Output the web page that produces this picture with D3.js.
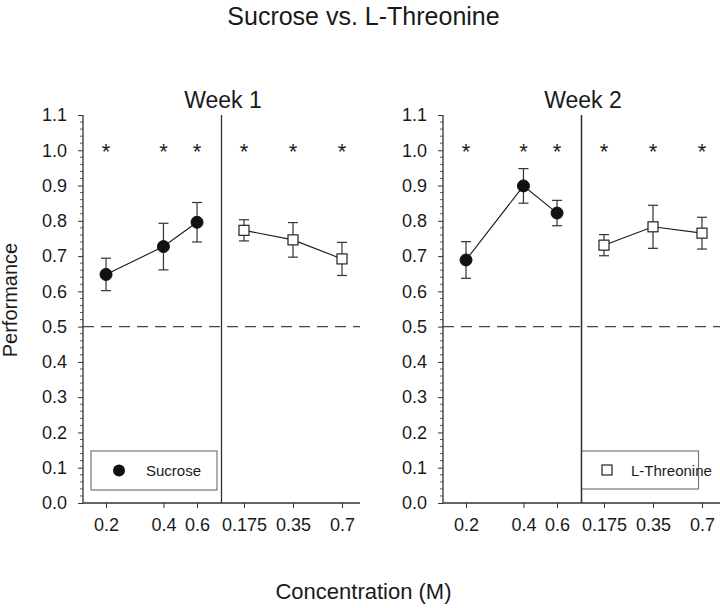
<!DOCTYPE html>
<html>
<head>
<meta charset="utf-8">
<script src="https://cdn.jsdelivr.net/npm/d3@7"></script>
<style>
  body { margin: 0; background: #fff; }
  svg { display: block; font-family: "Liberation Sans", Arial, sans-serif; }
</style>
</head>
<body>
<svg id="chart" width="720" height="608"></svg>
<script>
// ---- Data ----
const sucroseConc = [0.2, 0.4, 0.6];
const threonineConc = [0.175, 0.35, 0.7];
const sucroseTickLabels = ["0.2", "0.4", "0.6"];
const threonineTickLabels = ["0.175", "0.35", "0.7"];
const weekTitles = ["Week 1", "Week 2"];

const week1Sucrose = [0.648, 0.727, 0.796];
const week1SucroseErr = [0.046, 0.066, 0.056];
const week1Threonine = [0.773, 0.746, 0.692];
const week1ThreonineErr = [0.030, 0.049, 0.047];

const week2Sucrose = [0.689, 0.899, 0.822];
const week2SucroseErr = [0.052, 0.049, 0.036];
const week2Threonine = [0.731, 0.783, 0.765];
const week2ThreonineErr = [0.030, 0.061, 0.045];

const yTicks = [0, 0.1, 0.2, 0.3, 0.4, 0.5, 0.6, 0.7, 0.8, 0.9, 1.0, 1.1];
const chanceLevel = 0.5;
const sigLevel = 1.0;
const legendLabels = ["Sucrose", "L-Threonine"];

// ---- Layout ----
const svg = d3.select("#chart");
const plotTop = 115, plotBottom = 503, panelW = 277, half = 138.5;
const panelX = [83, 443];
const ink = "#1a1a1a", axisCol = "#333";

const y = d3.scaleLinear().domain([0, 1.1]).range([plotBottom, plotTop]);

svg.append("text").attr("x", 363.5).attr("y", 25).attr("text-anchor", "middle")
  .attr("font-size", 25).attr("fill", ink).text("Sucrose vs. L-Threonine");
svg.append("text").attr("x", 363.5).attr("y", 599).attr("text-anchor", "middle")
  .attr("font-size", 22).attr("fill", ink).text("Concentration (M)");
svg.append("text").attr("transform", "translate(17,300) rotate(-90)").attr("text-anchor", "middle")
  .attr("font-size", 20).attr("fill", ink).text("Performance");

const weeks = [
  {suc: week1Sucrose, sucErr: week1SucroseErr, thr: week1Threonine, thrErr: week1ThreonineErr},
  {suc: week2Sucrose, sucErr: week2SucroseErr, thr: week2Threonine, thrErr: week2ThreonineErr}
];

weeks.forEach((w, i) => {
  const x0 = panelX[i];
  const g = svg.append("g");
  const xs = d3.scaleLog().domain([0.1515, 0.806]).range([x0, x0 + half]);
  const xt = d3.scaleLog().domain([0.1273, 0.903]).range([x0 + half, x0 + panelW]);

  // title
  g.append("text").attr("x", x0 + 140).attr("y", 108).attr("text-anchor", "middle")
    .attr("font-size", 23).attr("fill", ink).text(weekTitles[i]);

  // y axis
  const yAxis = d3.axisLeft(y).tickValues(yTicks).tickSize(5).tickPadding(11).tickFormat(d3.format(".1f"));
  const ya = g.append("g").attr("transform", `translate(${x0},0)`).call(yAxis);
  ya.select(".domain").remove();
  ya.selectAll("line").attr("stroke", axisCol);
  ya.selectAll("text").attr("font-size", 18).attr("fill", ink).attr("font-family", "Liberation Sans, Arial, sans-serif");
  const minor = d3.range(0, 1.1001, 0.02).filter(v => Math.abs(Math.round(v * 10) - v * 10) > 1e-6);
  g.selectAll(".minor").data(minor).join("line")
    .attr("x1", x0 - 3).attr("x2", x0).attr("y1", d => y(d)).attr("y2", d => y(d))
    .attr("stroke", axisCol).attr("stroke-width", 0.8);
  g.append("line").attr("x1", x0).attr("x2", x0).attr("y1", plotTop).attr("y2", plotBottom)
    .attr("stroke", axisCol).attr("stroke-width", 1.3);

  // x axes
  const xa1 = g.append("g").attr("transform", `translate(0,${plotBottom})`)
    .call(d3.axisBottom(xs).tickValues(sucroseConc).tickSize(5).tickPadding(10)
      .tickFormat((d, k) => sucroseTickLabels[k]));
  const xa2 = g.append("g").attr("transform", `translate(0,${plotBottom})`)
    .call(d3.axisBottom(xt).tickValues(threonineConc).tickSize(5).tickPadding(10)
      .tickFormat((d, k) => threonineTickLabels[k]));
  [xa1, xa2].forEach(a => {
    a.select(".domain").remove();
    a.selectAll("line").attr("stroke", axisCol);
    a.selectAll("text").attr("font-size", 18).attr("fill", ink).attr("font-family", "Liberation Sans, Arial, sans-serif");
  });
  g.append("line").attr("x1", x0).attr("x2", x0 + panelW).attr("y1", plotBottom).attr("y2", plotBottom)
    .attr("stroke", axisCol).attr("stroke-width", 1.3);

  // divider
  g.append("line").attr("x1", x0 + half).attr("x2", x0 + half).attr("y1", plotTop).attr("y2", plotBottom)
    .attr("stroke", axisCol).attr("stroke-width", 1.3);

  // chance line
  g.append("line").attr("x1", x0).attr("x2", x0 + panelW).attr("y1", y(chanceLevel)).attr("y2", y(chanceLevel))
    .attr("stroke", "#444").attr("stroke-width", 1.2).attr("stroke-dasharray", "11,7");

  // significance asterisks
  const starX = sucroseConc.map(c => xs(c)).concat(threonineConc.map(c => xt(c)));
  g.selectAll(".star").data(starX).join("text")
    .attr("x", d => d).attr("y", y(sigLevel) + 9).attr("text-anchor", "middle")
    .attr("font-size", 22).attr("fill", ink).text("*");

  // series drawing helper
  function drawSeries(xsc, conc, vals, errs, shape) {
    const pts = conc.map((c, k) => ({x: xsc(c), v: vals[k], e: errs[k]}));
    g.append("path").datum(pts)
      .attr("d", d3.line().x(d => d.x).y(d => y(d.v)))
      .attr("fill", "none").attr("stroke", ink).attr("stroke-width", 1.1);
    const eb = g.selectAll(null).data(pts).join("g");
    eb.append("line").attr("x1", d => d.x).attr("x2", d => d.x)
      .attr("y1", d => y(d.v + d.e)).attr("y2", d => y(d.v - d.e)).attr("stroke", "#333").attr("stroke-width", 1.2);
    eb.append("line").attr("x1", d => d.x - 5).attr("x2", d => d.x + 5)
      .attr("y1", d => y(d.v + d.e)).attr("y2", d => y(d.v + d.e)).attr("stroke", "#333").attr("stroke-width", 1.2);
    eb.append("line").attr("x1", d => d.x - 5).attr("x2", d => d.x + 5)
      .attr("y1", d => y(d.v - d.e)).attr("y2", d => y(d.v - d.e)).attr("stroke", "#333").attr("stroke-width", 1.2);
    if (shape === "circle") {
      eb.append("circle").attr("cx", d => d.x).attr("cy", d => y(d.v)).attr("r", 6)
        .attr("fill", "#111").attr("stroke", "#111");
    } else {
      eb.append("rect").attr("x", d => d.x - 5).attr("y", d => y(d.v) - 5).attr("width", 10).attr("height", 10)
        .attr("fill", "#fff").attr("stroke", "#222").attr("stroke-width", 1.2);
    }
  }
  drawSeries(xs, sucroseConc, w.suc, w.sucErr, "circle");
  drawSeries(xt, threonineConc, w.thr, w.thrErr, "square");

  // legend
  if (i === 0) {
    g.append("rect").attr("x", x0 + 8).attr("y", 451).attr("width", 126).attr("height", 39)
      .attr("fill", "#fff").attr("stroke", "#777").attr("stroke-width", 1.2);
    g.append("circle").attr("cx", x0 + 36).attr("cy", 470.5).attr("r", 6).attr("fill", "#111");
    g.append("text").attr("x", x0 + 63).attr("y", 476).attr("font-size", 15).attr("fill", ink).text(legendLabels[0]);
  } else {
    g.append("rect").attr("x", x0 + half).attr("y", 451).attr("width", 117).attr("height", 38)
      .attr("fill", "#fff").attr("stroke", "#777").attr("stroke-width", 1.2);
    g.append("line").attr("x1", x0 + half).attr("x2", x0 + half).attr("y1", plotTop).attr("y2", plotBottom)
      .attr("stroke", axisCol).attr("stroke-width", 1.3);
    g.append("rect").attr("x", x0 + 159).attr("y", 465).attr("width", 10).attr("height", 10)
      .attr("fill", "#fff").attr("stroke", "#222").attr("stroke-width", 1.2);
    g.append("text").attr("x", x0 + 188).attr("y", 476).attr("font-size", 15).attr("fill", ink).text(legendLabels[1]);
  }
});
</script>
</body>
</html>
